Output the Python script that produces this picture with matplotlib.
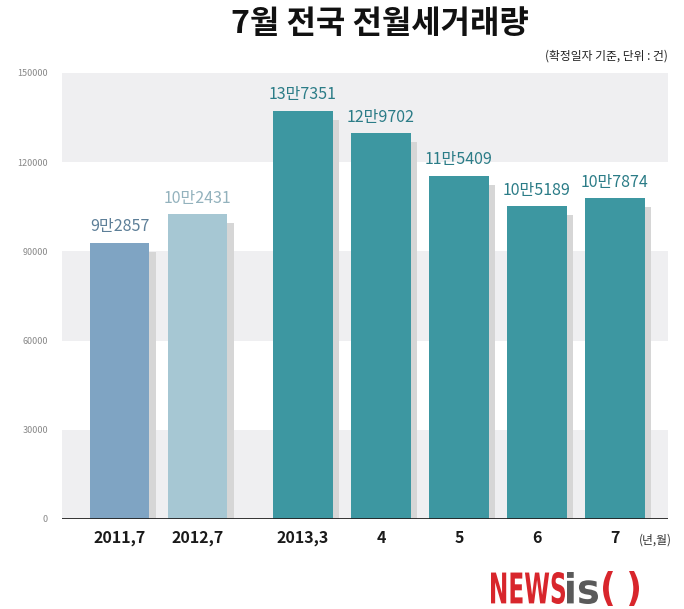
import matplotlib
matplotlib.use('Agg')
import matplotlib.pyplot as plt
import numpy as np
from matplotlib.textpath import TextPath
from matplotlib.font_manager import FontProperties
from matplotlib.patches import PathPatch
from matplotlib.transforms import Affine2D

plt.rcParams['font.family'] = ['Noto Sans CJK KR', 'DejaVu Sans']

# data
categories = ['2011,7', '2012,7', '2013,3', '4', '5', '6', '7']
values = [92857, 102431, 137351, 129702, 115409, 105189, 107874]
value_labels = ['9만2857', '10만2431', '13만7351', '12만9702', '11만5409', '10만5189', '10만7874']
positions = [0, 1, 2.35, 3.35, 4.35, 5.35, 6.35]
yticks = [0, 30000, 60000, 90000, 120000, 150000]

bar_colors = ['#7fa4c3', '#a6c7d3'] + ['#3d97a1'] * 5
text_colors = ['#5d7f98', '#93b2bd'] + ['#2b7c87'] * 5

fig = plt.figure(figsize=(6.84, 6.09), dpi=100)
ax = fig.add_axes([62 / 684, 1 - 519 / 609, 606 / 684, 446 / 609])
ax.set_xlim(-0.74, 7.03)
ax.set_ylim(0, 150000)

# grey background bands
for lo, hi in [(0, 30000), (60000, 90000), (120000, 150000)]:
    ax.axhspan(lo, hi, color='#efeff1', zorder=0, lw=0)

# shadows behind bars
ax.bar(np.array(positions) + 0.08, np.array(values) - 3000, width=0.76,
       color='#d6d6d6', zorder=1, lw=0)
bars = ax.bar(positions, values, width=0.76, color=bar_colors, zorder=2, lw=0)

for b, lab, c in zip(bars, value_labels, text_colors):
    ax.text(b.get_x() + b.get_width() / 2, b.get_height() + 2500, lab,
            ha='center', va='bottom', fontsize=11.5, color=c)

ax.axhline(0, color='#222222', lw=2, zorder=3)

for s in ax.spines.values():
    s.set_visible(False)
ax.set_yticks(yticks)
ax.set_yticklabels([str(v) for v in yticks], fontsize=6.5, color='#888888')
ax.set_xticks(positions)
ax.set_xticklabels(categories, fontsize=11.5, fontweight='bold', color='#1a1a1a')
ax.tick_params(length=0, axis='y', pad=10)
ax.tick_params(length=0, axis='x', pad=8)

fig.text(0.982, 1 - 540 / 609, '(년,월)', ha='right', va='center', fontsize=8.5, color='#333333')

fig.text(380 / 684, 1 - 24 / 609, '7월 전국 전월세거래량', ha='center', va='center',
         fontsize=23, fontweight='bold', color='#111111')
fig.text(668 / 684, 1 - 56 / 609, '(확정일자 기준, 단위 : 건)', ha='right', va='center',
         fontsize=8.5, color='#222222')

# logo, drawn as squeezed text paths in pixel coordinates
lax = fig.add_axes([0, 0, 1, 1])
lax.set_xlim(0, 684)
lax.set_ylim(0, 609)
lax.axis('off')
lax.patch.set_visible(False)


def logo_part(text, x0, x1, y0, y1, color):
    tp = TextPath((0, 0), text, size=1, prop=FontProperties(family='DejaVu Sans', weight='bold'))
    ext = tp.get_extents()
    tr = (Affine2D().translate(-ext.x0, -ext.y0)
          .scale((x1 - x0) / ext.width, (y1 - y0) / ext.height).translate(x0, y0))
    lax.add_patch(PathPatch(tr.transform_path(tp), color=color, lw=0))


logo_part('NEWS', 491, 565, 5, 37, '#d8262c')
logo_part('is', 567, 598, 5, 37, '#5a5a5a')
logo_part('(', 603, 613, 3, 38, '#d8262c')
logo_part(')', 629, 639, 3, 38, '#d8262c')

fig.savefig('out.png', dpi=100)
